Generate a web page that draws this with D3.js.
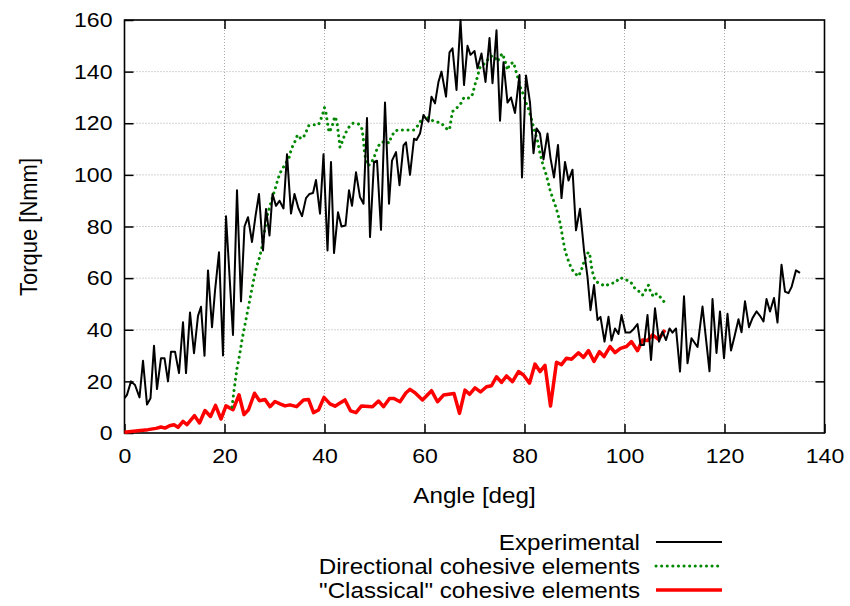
<!DOCTYPE html>
<html>
<head>
<meta charset="utf-8">
<script src="https://cdn.jsdelivr.net/npm/d3@7"></script>
<style>
  body { margin: 0; background: #fff; }
  text { font-family: "Liberation Sans", Arial, sans-serif; fill: #000; }
</style>
</head>
<body>
<script>

// tick labels
var xTicks = [0, 20, 40, 60, 80, 100, 120, 140];
var yTicks = [0, 20, 40, 60, 80, 100, 120, 140, 160];

// Experimental
var expAngle = [0, 0.5, 1.3, 2.1, 3, 3.7, 4.5, 5.2, 5.9, 6.5, 7.3, 8, 8.7, 9.3, 10.1, 10.9, 11.7, 12.3, 13.1, 13.9,
  14.7, 15.3, 16, 16.7, 17.5, 18.1, 18.9, 19.7, 20.3, 21.7, 22.5, 23.3, 24, 24.7, 25.5, 26.2, 26.9, 27.7, 28.3, 29,
  29.6, 30.3, 31, 31.8, 32.5, 33.3, 34, 34.8, 35.5, 36.3, 37, 37.7, 38.3, 39.1, 39.8, 40.6, 41.3, 41.9, 42.7, 43.4,
  44.2, 44.9, 45.5, 46.3, 47.1, 47.8, 48.5, 49.1, 49.9, 50.5, 51.3, 52.1, 52.9, 53.5, 54.3, 55, 55.8, 56.3, 57.1, 57.9,
  58.4, 59.1, 59.8, 60.3, 60.8, 61.4, 62.1, 62.8, 63.4, 64.3, 65, 65.6, 66.4, 67.2, 67.9, 68.6, 69.2, 70, 70.6, 71.4,
  72.2, 73, 73.6, 74.4, 75.1, 75.8, 76.6, 77.3, 78.1, 79, 79.5, 80.3, 81.1, 81.8, 82.4, 83.1, 83.8, 84.6, 85.2, 85.9,
  86.7, 87.4, 88.1, 88.8, 89.6, 90.3, 91.1, 91.9, 92.6, 93.2, 93.9, 94.6, 95.2, 96, 96.8, 97.4, 98.1, 98.8, 99.4, 100.2,
  101.1, 101.8, 102.6, 103.2, 103.9, 104.6, 105.3, 106.1, 106.9, 107.6, 108.3, 109, 109.6, 110.3, 111.1, 111.9, 112.6, 113.4, 114.6, 115.6,
  117, 117.6, 118.4, 119.1, 119.9, 120.6, 121.3, 122, 122.8, 123.4, 124.1, 124.9, 125.6, 126.4, 127.1, 127.8, 128.4, 129.1, 129.9, 130.6,
  131.4, 132.1, 132.8, 133.4, 134.3, 135.1];
var expTorque = [13.5, 14.8, 20, 18.6, 13.8, 28, 11, 13.5, 33.8, 17, 29, 29, 20, 31.5, 31.5, 23.2, 42.9, 23.2, 46.7, 30.9,
  45.4, 48.9, 29.9, 63, 41, 55, 70, 30, 84, 38, 94, 51, 80, 83.6, 74, 84, 92.6, 70.7, 86.8, 76.5,
  92.6, 88, 90, 87, 108, 85, 92.6, 87, 84, 91, 92.6, 93, 98, 85, 108, 70.7, 105, 69.7, 85.5, 80,
  80.4, 94, 88, 101, 91.4, 88.8, 122, 75.9, 105, 105.5, 78.7, 128, 88.8, 105.5, 108.8, 96, 111.4, 112.6, 100, 114,
  113.5, 116, 123.2, 121.7, 120.6, 130.3, 127.7, 136.1, 140, 130.3, 147.5, 149, 132.9, 160, 134.8, 150, 146.5, 148, 141.3, 147,
  136, 153, 135.5, 156, 121, 143.6, 128, 130, 124, 138.7, 99, 138.5, 128, 108.4, 118, 116, 106, 116, 106.5, 99,
  111.6, 91, 105, 97.8, 102, 78.5, 86.9, 70.8, 60.5, 47.6, 57.3, 43.8, 45, 35.4, 45, 35.8, 40.5, 38.4, 45.7, 38.9,
  38.9, 40.2, 42.2, 34.1, 34.1, 45.7, 28.3, 48.3, 35.4, 39.3, 36, 40.5, 38.9, 40.5, 23.8, 53, 27, 36.7, 33.3, 49,
  23.9, 51.9, 31, 47.1, 29, 46.2, 32, 37.4, 44.1, 39, 51, 41, 44.5, 47.1, 45.4, 43.2, 51.9, 47.1, 52.3, 42.8,
  65.2, 54.8, 54.2, 56.5, 63, 62];

// Directional cohesive elements
var dirAngle = [21.5, 22, 22.5, 23, 23.5, 24, 24.5, 25, 25.5, 26, 26.5, 27, 27.5, 28, 28.5, 29.1, 29.7, 30.2, 30.7, 31.2,
  31.7, 32.4, 32.9, 33.2, 33.6, 34.1, 34.6, 35.3, 35.8, 36.3, 36.8, 37.8, 38.8, 39.3, 39.7, 40, 40.3, 40.6, 40.9, 41.5,
  41.8, 42.1, 42.5, 42.8, 43.1, 43.5, 43.8, 44.3, 44.9, 45.7, 46.8, 47.5, 47.8, 48, 48.3, 48.6, 49.1, 49.8, 50.5, 51.1,
  52.1, 53, 53.3, 54.1, 54.8, 55.8, 56.8, 57.9, 58.8, 59.4, 60.1, 61.1, 62.3, 63.4, 64.3, 65, 65.2, 65.6, 66.6, 67.4,
  67.9, 69, 69.6, 70.1, 70.6, 71, 71.4, 72.1, 73.1, 73.8, 74.6, 75.1, 75.6, 76.1, 76.6, 77, 77.8, 78.1, 78.4, 78.8,
  79.2, 79.8, 80.3, 80.8, 81.2, 81.6, 82.1, 82.6, 83, 83.5, 83.9, 84.3, 84.7, 85.1, 85.6, 86.3, 86.8, 87.2, 87.6, 88.1,
  88.6, 89, 89.4, 90.1, 90.8, 91.4, 91.9, 92.3, 92.8, 93.1, 93.4, 93.8, 94.3, 95.1, 96.1, 97.1, 98.1, 99.1, 100.1, 101.2,
  102.1, 103, 103.6, 104.3, 104.8, 105.2, 105.8, 106.4, 107.1, 108.1];
var dirTorque = [10, 18, 25, 30, 36, 41, 46, 51, 56, 61, 65, 68, 72, 78, 84, 88, 92, 95, 98.5, 101,
  102.7, 105, 106.6, 108.8, 111, 113, 115.5, 114, 114.6, 116.5, 119, 119.4, 119.4, 121.7, 124, 126, 124, 120, 116.5, 118.5,
  121, 122.6, 120.4, 115.5, 110.7, 112.6, 114.3, 116.5, 118.5, 120, 119.7, 117.8, 113.3, 108.4, 105.8, 103.6, 104, 106.2, 110, 112.3,
  113, 112.3, 114.6, 117, 117.4, 117.4, 117.4, 117.4, 119.4, 121.5, 123, 121.3, 120.6, 120, 118, 117.4, 120, 124.5, 126.2, 128,
  130, 129.7, 131.2, 135, 138, 141.3, 142.3, 143.2, 145.8, 146.2, 143.9, 145.8, 147, 144.1, 140.6, 142.8, 143.6, 141.5, 139.4, 136.8,
  133.8, 131, 128, 125.5, 123, 120, 116.5, 113.2, 109.3, 105.2, 102.6, 100.3, 97.4, 94.2, 91.2, 87.4, 83.9, 80.6, 76, 70.8,
  67.6, 65.6, 63.7, 61.8, 60.7, 63.3, 66.3, 68.5, 70.1, 68.5, 64.4, 60.7, 58.6, 57.9, 56.9, 57.9, 58.2, 60.2, 59.5, 58.6,
  56, 54.7, 53.4, 55.6, 57.3, 54.7, 52.8, 54, 52.8, 50.4];

// "Classical" cohesive elements
var clsAngle = [0, 2.7, 4.7, 6.3, 7.3, 8.1, 9, 9.9, 10.7, 11.7, 12.5, 14, 15, 16.1, 17.2, 18.2, 19.3, 20.3, 21.7, 22.9,
  23.9, 24.8, 26, 27, 28.1, 29.1, 30.1, 31.1, 32.1, 33.1, 34.4, 35.8, 36.8, 37.8, 38.8, 39.9, 41.1, 42.1, 43.1, 44.1,
  45.2, 46.3, 47.4, 49.6, 50.8, 51.8, 53, 53.9, 55.1, 56.3, 57.1, 58.1, 59.6, 61.4, 62.6, 63.8, 65.9, 67, 68.1, 69,
  70.1, 71.2, 72.4, 73.4, 74.4, 75.4, 76.4, 77.6, 78.8, 79.8, 81, 82.1, 83.1, 84.1, 85.2, 86.4, 87.4, 88.4, 89.4, 90.8,
  91.8, 92.8, 93.9, 95, 95.9, 97.1, 98.1, 99.2, 100.4, 101.4, 102.6, 103.6, 104.6, 105.6, 106.8, 108.1];
var clsTorque = [0.3, 0.9, 1.3, 1.8, 2.3, 1.9, 2.8, 3.2, 2.2, 4.5, 3.2, 6.7, 3.9, 8.7, 6.4, 10.7, 5.4, 10.5, 9, 14.8,
  7.1, 9, 15.4, 12.5, 13, 10.2, 12.2, 11.3, 10.5, 10.9, 10.2, 12.8, 13, 7.9, 8.9, 13.8, 11.3, 10.4, 11.6, 12.8,
  8.6, 7.9, 10.5, 10.2, 12.4, 10.2, 13.4, 13.4, 12.1, 15.6, 16.9, 15.6, 12.8, 16.4, 12.1, 14.7, 15.3, 7.6, 16.6, 15,
  17.5, 15.9, 17.9, 18.3, 21.8, 19.6, 22.1, 19.9, 23.8, 22.5, 19.3, 26.7, 23.8, 26.2, 10.5, 27.4, 26.5, 29, 28.6, 31.1,
  29.3, 31.9, 27.7, 31.5, 29.6, 33.5, 31.1, 32.8, 33.5, 35.4, 31.9, 36, 35.8, 38, 36.3, 39.9];

var legendNames = ["Experimental", "Directional cohesive elements", "\"Classical\" cohesive elements"];

var SX = 1.1; // picture is a bit wide

var svg = d3.select("body").append("svg")
    .attr("width", 850)
    .attr("height", 606);

var x = d3.scaleLinear().domain([0, 140]).range([124.5, 824.5]);
var y = d3.scaleLinear().domain([0, 160]).range([433, 20]);

function addText(x0, y0, txt, anchor, size, rot) {
  svg.append("text")
    .attr("transform", "translate(" + x0 + "," + y0 + ") scale(" + SX + ",1) rotate(" + (rot || 0) + ")")
    .attr("text-anchor", anchor)
    .attr("font-size", size + "px")
    .text(txt);
}

// grid
var grid = svg.append("g").attr("stroke", "#a8a8a8").attr("stroke-width", 1).attr("stroke-dasharray", "1,2");
grid.selectAll(".gx").data(xTicks).enter().append("line")
    .attr("x1", function(d) { return x(d); }).attr("x2", function(d) { return x(d); })
    .attr("y1", y(0)).attr("y2", y(160));
grid.selectAll(".gy").data(yTicks).enter().append("line")
    .attr("x1", x(0)).attr("x2", x(140))
    .attr("y1", function(d) { return y(d); }).attr("y2", function(d) { return y(d); });

// axes, ticks inside on all four sides
var fmt = d3.format("d");
var axB = svg.append("g").attr("transform", "translate(0," + y(0) + ")")
    .call(d3.axisBottom(x).tickValues(xTicks).tickSize(-9).tickPadding(15).tickFormat(fmt));
var axL = svg.append("g").attr("transform", "translate(" + x(0) + ",0)")
    .call(d3.axisLeft(y).tickValues(yTicks).tickSize(-9).tickPadding(12 / SX).tickFormat(fmt));
svg.append("g").attr("transform", "translate(0," + y(160) + ")")
    .call(d3.axisTop(x).tickValues(xTicks.slice(1, -1)).tickSize(-9).tickFormat(""));
svg.append("g").attr("transform", "translate(" + x(140) + ",0)")
    .call(d3.axisRight(y).tickValues(yTicks.slice(1, -1)).tickSize(-9).tickFormat(""));

svg.selectAll(".domain").remove();
svg.selectAll(".tick line").attr("stroke", "#000").attr("stroke-width", 1.5);
[axB, axL].forEach(function(a) {
  a.selectAll("text")
    .attr("font-family", "Liberation Sans, Arial, sans-serif")
    .attr("font-size", "21px")
    .attr("fill", "#000")
    .attr("transform", "scale(" + SX + ",1)");
});

// frame
svg.append("rect")
    .attr("x", x(0)).attr("y", y(160))
    .attr("width", x(140) - x(0)).attr("height", y(0) - y(160))
    .attr("fill", "none").attr("stroke", "#000").attr("stroke-width", 1.6);

var line = d3.line().x(function(d) { return x(d[0]); }).y(function(d) { return y(d[1]); });

svg.append("path").datum(d3.zip(clsAngle, clsTorque))
    .attr("d", line).attr("fill", "none")
    .attr("stroke", "#ff0000").attr("stroke-width", 3.5).attr("stroke-linejoin", "round");

svg.append("path").datum(d3.zip(dirAngle, dirTorque))
    .attr("d", line).attr("fill", "none")
    .attr("stroke", "#008800").attr("stroke-width", 3)
    .attr("stroke-linecap", "round").attr("stroke-dasharray", "0.1,5.5");

svg.append("path").datum(d3.zip(expAngle, expTorque))
    .attr("d", line).attr("fill", "none")
    .attr("stroke", "#000").attr("stroke-width", 2).attr("stroke-linejoin", "round");

// axis titles
addText(474.5, 503, "Angle [deg]", "middle", 22);
addText(37, 227, "Torque [Nmm]", "middle", 22, -90);

// legend
var legY = [542, 566, 590];
var legStyle = [
  { c: "#000", w: 2, dash: null, cap: "butt" },
  { c: "#008800", w: 3, dash: "0.1,5.5", cap: "round" },
  { c: "#ff0000", w: 3.5, dash: null, cap: "butt" }
];
legendNames.forEach(function(n, i) {
  addText(640, legY[i] + 8, n, "end", 22);
  svg.append("line")
    .attr("x1", 656).attr("x2", 722)
    .attr("y1", legY[i]).attr("y2", legY[i])
    .attr("stroke", legStyle[i].c).attr("stroke-width", legStyle[i].w)
    .attr("stroke-linecap", legStyle[i].cap)
    .attr("stroke-dasharray", legStyle[i].dash);
});

</script>
</body>
</html>
